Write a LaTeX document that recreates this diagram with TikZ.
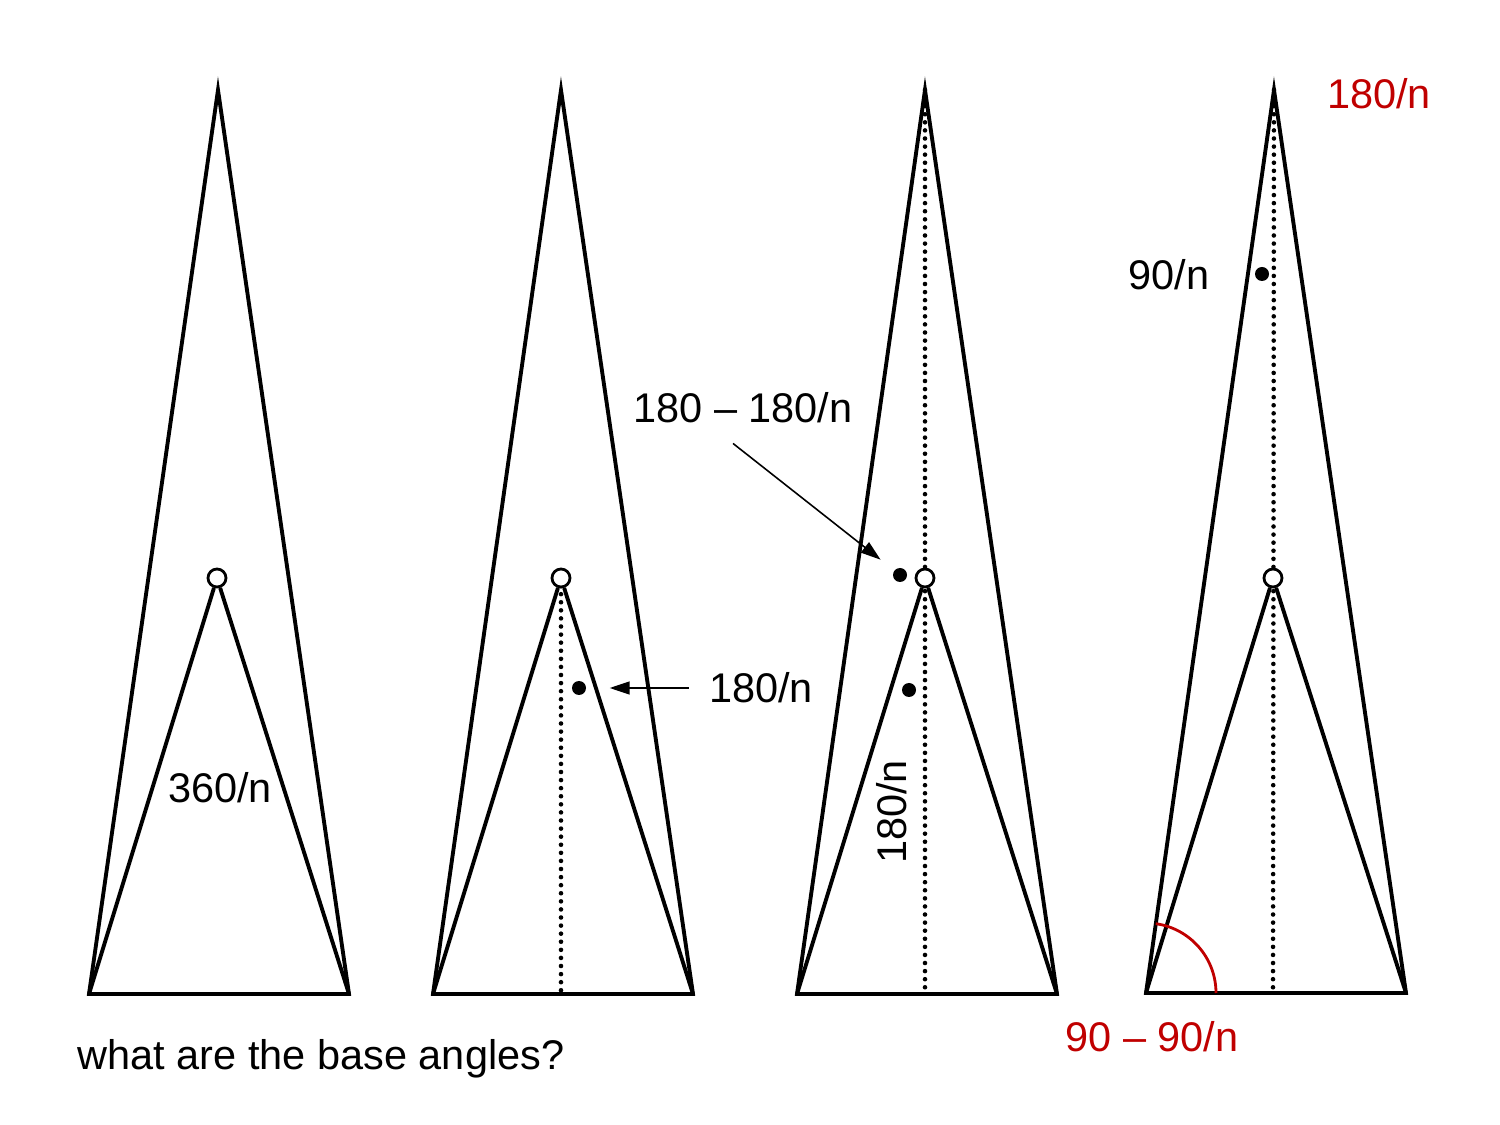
\documentclass[tikz,border=0pt]{standalone}
\usepackage{fontspec}
\setmainfont{Liberation Sans}
\usetikzlibrary{arrows.meta}
\definecolor{angred}{RGB}{192,0,0}
\tikzset{
  tri/.style={line width=1.1pt, line join=miter},
  hinge/.style={circle, draw, line width=0.8pt, fill=white, minimum size=0.18cm, inner sep=0pt},
  mark dot/.style={circle, fill=black, minimum size=0.14cm, inner sep=0pt},
  dotline/.style={line width=1.3pt, line cap=round, dash pattern=on 0pt off 2.3pt},
  pointer/.style={line width=0.45pt, -{Triangle[length=0.2cm,width=0.13cm]}},
  lbl/.style={font=\fontsize{11.8}{14}\selectfont, inner sep=1pt}
}
\begin{document}
\begin{tikzpicture}

    \useasboundingbox (0,0) rectangle (15,11.25);

    % Corners of the four triangles
    \coordinate (A1) at (2.18,10.35); \coordinate (L1) at (0.89,1.31); \coordinate (R1) at (3.49,1.31);
    \coordinate (A2) at (5.61,10.35); \coordinate (L2) at (4.33,1.31); \coordinate (R2) at (6.93,1.31);
    \coordinate (A3) at (9.25,10.35); \coordinate (L3) at (7.97,1.31); \coordinate (R3) at (10.57,1.31);
    \coordinate (A4) at (12.74,10.35); \coordinate (L4) at (11.46,1.32); \coordinate (R4) at (14.06,1.32);
    \coordinate (M2) at (5.61,1.31);
    \coordinate (M3) at (9.25,1.31);
    \coordinate (M4) at (12.73,1.32);

    % Dotted heights (drawn first, under the hinges)
    \draw[dotline] (5.61,5.47) -- (M2);
    \draw[dotline] (A3) -- (M3);
    \draw[dotline] (A4) -- (M4);

    % Outer triangles
    \draw[tri] (L1) -- (A1) -- (R1) -- cycle;
    \draw[tri] (L2) -- (A2) -- (R2) -- cycle;
    \draw[tri] (L3) -- (A3) -- (R3) -- cycle;
    \draw[tri] (L4) -- (A4) -- (R4) -- cycle;

    % Inner triangles meeting at the hinge
    \node[hinge] (H1) at (2.17,5.47) {};
    \node[hinge] (H2) at (5.61,5.47) {};
    \node[hinge] (H3) at (9.25,5.47) {};
    \node[hinge] (H4) at (12.73,5.47) {};
    \draw[tri] (L1) -- (H1) -- (R1);
    \draw[tri] (L2) -- (H2) -- (R2);
    \draw[tri] (L3) -- (H3) -- (R3);
    \draw[tri] (L4) -- (H4) -- (R4);

    % Angle marks
    \node[mark dot] (d2) at (5.79,4.37) {};
    \node[mark dot] (d3a) at (9.00,5.50) {};
    \node[mark dot] (d3b) at (9.09,4.35) {};
    \node[mark dot] (d4) at (12.62,8.51) {};

    % Labels
    \node[lbl] (l360) at (2.20,3.37) {360/n};
    \node[lbl] (l180b) at (7.61,4.37) {180/n};
    \node[lbl] (l180c) at (7.43,7.17) {180 – 180/n};
    \node[lbl, rotate=90] (l180r) at (8.92,3.13) {180/n};
    \node[lbl] (l90) at (11.69,8.50) {90/n};
    \node[lbl, text=angred] (ltop) at (13.79,10.31) {180/n};
    \node[lbl, text=angred] (lbase) at (11.52,0.88) {90 – 90/n};
    \node[lbl] (question) at (3.21,0.66) {what are the base angles?};

    % Pointers to the marks
    \draw[pointer, shorten <=0.16cm, shorten >=0.23cm] (l180b.west) -- (d2);
    \draw[pointer, shorten >=0.17cm] ([xshift=-1mm,yshift=-1.6mm]l180c.south) -- (d3a);

    % Base angle
    \draw[angred, line width=0.8pt] ([xshift=0.7cm]L4) arc[start angle=0, end angle=82, radius=0.7];

\end{tikzpicture}
\end{document}
